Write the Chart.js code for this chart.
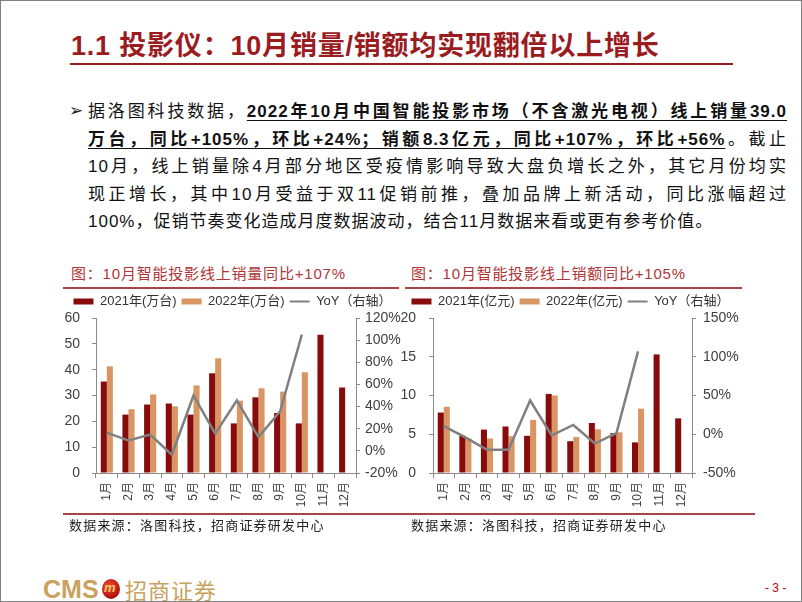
<!DOCTYPE html>
<html><head><meta charset="utf-8">
<script src="https://cdn.jsdelivr.net/npm/chart.js@4.4.1/dist/chart.umd.min.js"></script>
<style>
html,body{margin:0;padding:0;background:#fff;}
#slide{position:relative;width:800px;height:600px;border:1px solid #808080;overflow:hidden;background:#fff;
 font-family:"Liberation Sans","Noto Sans CJK SC",sans-serif;color:#111;}
.abs{position:absolute;white-space:nowrap;}
#title{left:70px;top:27px;font-size:27px;font-weight:bold;color:#9b1c1f;letter-spacing:0.8px;line-height:36px;}
#title .n{font-family:"Liberation Sans Narrow","Liberation Sans",sans-serif;}
.rule{position:absolute;background:#9b1c1f;}
.line{position:absolute;left:87px;width:699px;font-size:17px;line-height:27px;height:27px;letter-spacing:1px;
 text-align:justify;text-align-last:justify;white-space:nowrap;}
.line.last{text-align:left;text-align-last:left;}
.line b{font-weight:bold;text-decoration:underline;text-underline-offset:3px;}
#arrow{left:68px;top:96px;font-size:17px;line-height:27px;font-family:"DejaVu Sans";color:#222;}
.ctitle{font-size:15px;color:#b03536;letter-spacing:0.8px;line-height:20px;}
.src{font-size:13px;color:#222;letter-spacing:1.2px;line-height:18px;}
canvas{position:absolute;}
#logo{left:42px;top:574px;height:28px;color:#c9a25e;}
#pn{left:764px;top:580px;font-size:12px;color:#c00000;}
</style></head>
<body>
<div id="slide">
 <div class="abs" id="title"><span class="n">1.1</span> 投影仪：<span class="n">10</span>月销量/销额均实现翻倍以上增长</div>
 <div class="rule" style="left:69px;top:62px;width:663px;height:2px;"></div>

 <div class="abs" id="arrow">➢</div>
 <div class="line" style="top:97px;">据洛图科技数据，<b>2022年10月中国智能投影市场（不含激光电视）线上销量39.0</b></div>
 <div class="line" style="top:125px;"><b>万台，同比+105%，环比+24%；销额8.3亿元，同比+107%，环比+56%</b>。截止</div>
 <div class="line" style="top:152px;">10月，线上销量除4月部分地区受疫情影响导致大盘负增长之外，其它月份均实</div>
 <div class="line" style="top:180px;">现正增长，其中10月受益于双11促销前推，叠加品牌上新活动，同比涨幅超过</div>
 <div class="line last" style="top:207px;">100%，促销节奏变化造成月度数据波动，结合11月数据来看或更有参考价值。</div>

 <div class="abs ctitle" style="left:70px;top:263px;">图：10月智能投影线上销量同比+107%</div>
 <div class="abs ctitle" style="left:410px;top:263px;">图：10月智能投影线上销额同比+105%</div>
 <div class="rule" style="left:62px;top:286px;width:336px;height:2px;background:#a94446;"></div>
 <div class="rule" style="left:404px;top:286px;width:337px;height:2px;background:#a94446;"></div>

 <canvas id="c1" width="347" height="226" style="left:58px;top:288px;"></canvas>
 <canvas id="c2" width="343" height="226" style="left:398px;top:288px;"></canvas>

 <div class="rule" style="left:62px;top:512px;width:692px;height:2px;background:#a94446;"></div>
 <div class="abs src" style="left:68px;top:516px;">数据来源：洛图科技，招商证券研发中心</div>
 <div class="abs src" style="left:410px;top:516px;">数据来源：洛图科技，招商证券研发中心</div>

 <div class="abs" id="logo">
  <span style="position:absolute;left:0;top:0;font-size:25px;font-weight:bold;font-family:'Liberation Sans Narrow','Liberation Sans';line-height:28px;">CMS</span>
  <span style="position:absolute;left:59px;top:4px;width:18px;height:20px;border-radius:50%;background:radial-gradient(circle at 40% 35%,#f04a2a,#b01010 70%,#7a0808);"></span>
  <span style="position:absolute;left:61px;top:5px;font-size:13px;font-style:italic;font-weight:bold;color:#f2c86a;line-height:16px;">m</span>
  <span style="position:absolute;left:82px;top:0;font-size:22px;line-height:28px;letter-spacing:1px;font-family:'Noto Sans CJK SC';">招商证券</span>
  <span style="position:absolute;left:0;top:26px;width:57px;height:1px;background:#d9c08a;"></span>
  <span style="position:absolute;left:82px;top:26px;width:92px;height:1px;background:#d9c08a;"></span>
 </div>
 <div class="abs" id="pn">- 3 -</div>
</div>

<script>
// ---------------- data ----------------
const months = ['1月','2月','3月','4月','5月','6月','7月','8月','9月','10月','11月','12月'];

// 线上销量（万台）
const vol2021 = [35.4, 22.6, 26.5, 26.9, 22.6, 38.6, 19.2, 29.3, 23.2, 19.2, 53.5, 33.1];
const vol2022 = [41.3, 24.7, 30.4, 25.8, 33.9, 44.4, 28.0, 32.8, 31.5, 39.0];
const volYoY  = [16.5, 9.3, 14.7, -3.5, 50.0, 15.5, 45.5, 12.5, 35.8, 105];

// 线上销额（亿元）
const amt2021 = [7.8, 4.8, 5.6, 6.0, 4.8, 10.2, 4.1, 6.45, 5.15, 3.95, 15.3, 7.05];
const amt2022 = [8.55, 4.45, 4.45, 4.75, 6.85, 10.0, 4.65, 5.65, 5.25, 8.3];
const amtYoY  = [10.5, -4.0, -20.0, -20.0, 43.5, -1.5, 12.0, -12.0, 1.5, 107];

const legend1 = ['2021年(万台)', '2022年(万台)', 'YoY（右轴）'];
const legend2 = ['2021年(亿元)', '2022年(亿元)', 'YoY（右轴）'];

// ---------------- styles ----------------
const C21 = '#870B0B', C22 = '#D99664', CLINE = '#808080', AXIS = '#8a8a8a', TXT = '#404040';
Chart.defaults.font.family = '"Liberation Sans","Noto Sans CJK SC",sans-serif';
Chart.defaults.color = TXT;

function build(id, names, d21, d22, yoy, left, right, wL, wR, padL, padR) {
  return new Chart(document.getElementById(id), {
    type: 'bar',
    data: {
      labels: months,
      datasets: [
        {label: names[0], data: d21, backgroundColor: C21, yAxisID: 'y', order: 2,
         categoryPercentage: 0.56, barPercentage: 1.0},
        {label: names[1], data: d22, backgroundColor: C22, yAxisID: 'y', order: 2,
         categoryPercentage: 0.56, barPercentage: 1.0},
        {type: 'line', label: names[2], data: yoy, borderColor: CLINE, backgroundColor: CLINE,
         borderWidth: 2.5, pointRadius: 0, tension: 0, yAxisID: 'y1', order: 1}
      ]
    },
    options: {
      responsive: false, animation: false,
      layout: {padding: {top: 1, left: 0, right: 0, bottom: 0}},
      plugins: {
        tooltip: {enabled: false},
        legend: {
          position: 'top',
          labels: {
            usePointStyle: true, pointStyleWidth: 20, boxHeight: 6, padding: 5,
            font: {size: 13}, color: '#333',
            sort: (a, b) => a.datasetIndex - b.datasetIndex,
            generateLabels(chart) {
              const items = Chart.defaults.plugins.legend.labels.generateLabels(chart);
              items.forEach(it => {
                const ds = chart.data.datasets[it.datasetIndex];
                if (ds.type === 'line') { it.pointStyle = 'line'; it.lineWidth = 2; it.strokeStyle = CLINE; }
                else { it.pointStyle = 'rect'; it.lineWidth = 0; }
              });
              return items;
            }
          }
        }
      },
      scales: {
        x: {
          grid: {display: true, drawOnChartArea: false, drawTicks: true, tickLength: 5, offset: true, color: AXIS},
          border: {display: true, color: AXIS, width: 1},
          ticks: {minRotation: 90, maxRotation: 90, autoSkip: false, font: {size: 12}, padding: 4, color: TXT},
          afterFit(s) { s.height = 42; }
        },
        y: {
          position: 'left', min: left[0], max: left[1],
          ticks: {stepSize: left[2], font: {size: 14}, padding: padL, color: TXT},
          grid: {display: true, drawOnChartArea: false, drawTicks: true, tickLength: 4, color: AXIS},
          border: {display: true, color: AXIS},
          afterFit(s) { s.width = wL; }
        },
        y1: {
          position: 'right', min: right[0], max: right[1],
          ticks: {stepSize: right[2], font: {size: 14}, padding: padR, color: TXT, callback: v => v + '%'},
          grid: {display: true, drawOnChartArea: false, drawTicks: true, tickLength: 4, color: AXIS},
          border: {display: true, color: AXIS},
          afterFit(s) { s.width = wR; }
        }
      }
    }
  });
}

build('c1', legend1, vol2021, vol2022, volYoY, [0, 60, 10], [-20, 120, 20], 37, 50, 12, 5);
build('c2', legend2, amt2021, amt2022, amtYoY, [0, 20, 5], [-50, 150, 50], 34, 50, 13, 7);
</script>
</body></html>
